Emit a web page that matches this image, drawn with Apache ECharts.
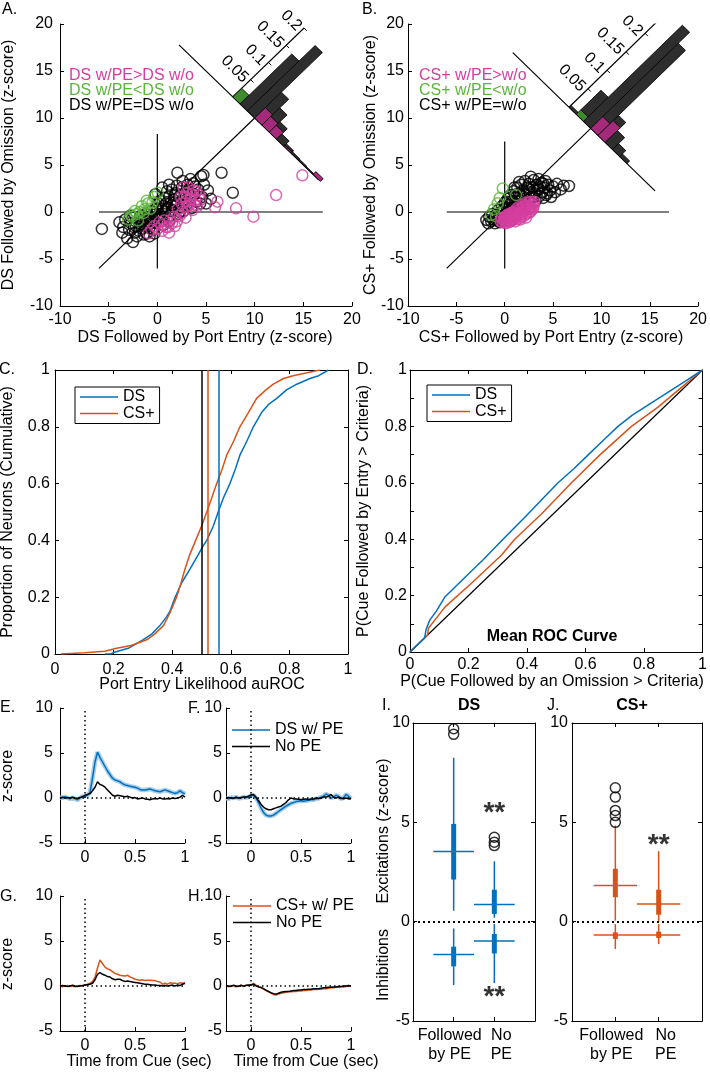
<!DOCTYPE html>
<html>
<head>
<meta charset="utf-8">
<script src="https://cdn.jsdelivr.net/npm/echarts@6/dist/echarts.min.js"></script>
<style>
html, body { margin: 0; padding: 0; background: #fff; }
#chart { width: 710px; height: 1075px; }
</style>
</head>
<body>
<div id="chart"></div>
<script>
// ---------- data ----------
// A / B scatter: [PE z-score, omission z-score]
const dsScatterNs = [[-5.7,-1.8],[-3.9,-1.1],[-3.6,-2.2],[-3.5,-1.6],[-3.3,-0.8],[-3.1,-2.8],[-2.9,-1.9],[-2.8,-0.4],[-2.7,-1.2],[-2.5,-3.2],[-2.5,-0.6],[-2.4,-1.6],[-2.3,-2.2],[-2.2,-1.5],[-2.1,-2.6],[-2.0,-0.9],[-1.9,-2.0],[-1.8,-1.3],[-1.7,-0.4],[-1.7,-1.0],[-1.6,-1.8],[-1.5,-0.9],[-1.4,-2.4],[-1.3,-1.5],[-1.2,-0.2],[-1.2,-0.7],[-1.1,-2.3],[-1.0,-1.0],[-0.9,-0.5],[-0.8,-1.7],[-0.8,-2.6],[-0.7,-1.2],[-0.6,0.1],[-0.6,-0.9],[-0.5,-0.7],[-0.4,-1.9],[-0.3,-0.3],[-0.3,-2.3],[-0.2,-1.1],[-0.2,1.9],[-0.1,0.4],[0.0,-0.6],[0.0,0.3],[0.1,0.9],[0.2,-0.2],[0.3,1.2],[0.3,-0.6],[0.4,0.3],[0.5,-0.9],[0.5,2.6],[0.6,0.6],[0.6,-1.4],[0.7,1.5],[0.8,0.0],[0.9,0.9],[0.9,0.3],[1.0,2.2],[1.1,0.4],[1.2,1.6],[1.2,-1.0],[1.2,2.9],[1.3,-0.4],[1.4,1.0],[1.5,2.4],[1.5,0.7],[1.6,0.2],[1.7,1.3],[1.8,0.6],[1.8,1.8],[1.9,2.0],[2.0,2.8],[2.06,4.18],[2.1,1.0],[2.2,-0.2],[2.3,1.7],[2.3,0.0],[2.4,0.5],[2.5,2.6],[2.6,1.2],[2.6,3.3],[2.7,0.1],[2.8,1.9],[2.9,1.0],[3.0,0.8],[3.1,2.9],[3.2,2.2],[3.3,1.5],[3.4,3.5],[3.5,0.4],[3.7,3.05],[3.8,1.9],[3.9,2.7],[4.0,1.1],[4.2,2.4],[4.4,0.9],[4.5,3.8],[4.6,1.6],[4.73,3.94],[4.8,2.9],[5.0,0.9],[5.2,2.3],[5.5,1.4],[6.6,4.18],[7.75,2.05]];
const dsScatterLess = [[-3.0,-0.8],[-2.7,-0.3],[-2.6,-0.5],[-2.3,0.1],[-2.1,-0.2],[-1.8,0.0],[-1.6,0.6],[-1.3,0.3],[-1.1,1.2],[-0.92,0.93],[-0.7,0.35],[-0.5,1.0],[-0.3,1.6],[0.04,2.05],[-2.0,-0.9],[-1.4,-0.1]];
const dsScatterMore = [[-0.9,-2.27],[-0.6,-1.9],[-0.3,-1.5],[0.0,-1.8],[0.2,-1.1],[0.45,-1.4],[0.5,-2.0],[0.7,-0.9],[0.9,-1.6],[1.1,-1.6],[1.2,-2.2],[1.3,-0.9],[1.5,-1.2],[1.7,-0.5],[1.8,-1.5],[2.0,-1.0],[2.1,0.3],[2.3,-0.4],[2.4,1.6],[2.5,0.9],[2.6,0.0],[2.7,2.6],[2.8,1.6],[2.9,-0.6],[3.0,2.0],[3.0,1.2],[3.1,0.6],[3.2,2.6],[3.3,0.75],[3.4,1.4],[3.5,1.9],[3.6,0.2],[3.7,2.3],[3.8,0.8],[3.9,1.28],[4.0,2.2],[4.1,0.6],[4.3,1.8],[4.4,1.3],[5.93,0.5],[6.17,1.1],[8.09,0.39],[9.87,-0.5],[12.2,1.8],[14.9,3.9]];
const csScatterNs = [[-1.9,-0.85],[-1.7,-1.2],[-1.6,-0.5],[-1.4,-1.0],[-1.3,-0.2],[-1.2,-0.8],[-1.0,-1.2],[-1.0,-0.5],[-0.9,-0.3],[-0.8,-0.9],[-0.7,0.2],[-0.6,-0.6],[-0.5,-1.1],[-0.4,0.0],[-0.3,0.6],[-0.3,-0.9],[-0.2,-0.4],[-0.1,0.3],[0.0,1.0],[0.1,-0.2],[0.2,0.5],[0.2,1.1],[0.3,1.4],[0.4,0.1],[0.5,0.8],[0.5,1.5],[0.6,1.8],[0.7,0.4],[0.8,1.2],[0.9,2.2],[1.0,0.7],[1.0,2.6],[1.1,1.6],[1.2,0.2],[1.2,1.9],[1.3,2.6],[1.4,1.1],[1.5,1.9],[1.5,3.2],[1.6,0.6],[1.7,2.9],[1.8,1.4],[1.9,2.3],[2.0,1.0],[2.0,2.0],[2.1,3.3],[2.2,1.8],[2.3,2.6],[2.4,1.3],[2.5,3.0],[2.5,2.5],[2.6,2.1],[2.7,3.76],[2.8,1.6],[2.9,2.6],[3.0,3.4],[3.0,1.6],[3.1,2.0],[3.2,1.2],[3.3,2.9],[3.4,2.3],[3.5,3.5],[3.5,2.5],[3.6,1.7],[3.7,2.7],[3.8,3.1],[3.9,2.1],[4.0,1.5],[4.0,3.0],[4.1,2.6],[4.2,3.3],[4.3,1.8],[4.4,2.0],[4.5,2.9],[4.7,2.3],[4.8,1.6],[5.0,2.7],[5.2,2.1],[5.4,3.0],[5.8,2.4],[6.1,2.8],[6.65,2.77]];
const csScatterLess = [[-0.2,2.5],[1.17,1.8],[-0.72,0.93],[-1.4,-0.3],[-0.9,-0.45],[-1.1,0.3],[-0.5,1.5]];
const csScatterMore = [[-0.4,-1.0],[-0.3,-0.7],[-0.2,-1.1],[-0.1,-0.8],[0.0,-0.5],[0.0,-1.0],[0.1,-0.7],[0.1,-1.2],[0.2,-1.0],[0.2,-0.4],[0.3,-0.8],[0.3,-0.3],[0.4,-0.5],[0.4,-1.1],[0.5,-0.9],[0.5,-0.2],[0.6,-0.6],[0.6,-1.0],[0.7,-0.9],[0.7,-0.1],[0.8,-0.3],[0.8,-0.7],[0.9,0.0],[0.9,-0.5],[1.0,-0.5],[1.0,-0.8],[1.1,-0.2],[1.1,-1.0],[1.2,-0.6],[1.2,0.3],[1.3,0.1],[1.3,-0.3],[1.4,-0.4],[1.4,0.5],[1.5,-0.7],[1.5,0.3],[1.6,-0.1],[1.6,-0.8],[1.7,-0.5],[1.8,0.4],[1.8,-0.2],[1.9,0.0],[1.9,0.8],[2.0,-0.4],[2.0,0.6],[2.0,0.2],[2.1,0.2],[2.2,-0.2],[2.2,-0.6],[2.2,1.0],[2.3,0.8],[2.4,0.3],[2.4,0.6],[2.5,-0.1],[2.5,1.0],[2.6,0.5],[2.6,0.0],[2.7,0.1],[2.7,1.1],[2.8,0.8],[2.8,0.4],[2.9,0.3],[3.0,0.6],[3.0,0.9],[3.05,1.1]];

// diagonal histograms: bin index (along difference axis), significant part, non-significant part
const dsHistBins = [-3, -2, -1, 0, 1, 2, 3, 4, 5, 6, 7, 8];
const dsHistSig  = [0.025, 0, 0, 0.03, 0.025, 0.02, 0, 0.003, 0, 0, 0, 0.008];
const dsHistNs   = [0, 0.145, 0.19, 0.045, 0.025, 0.01, 0.015, 0.004, 0.004, 0.003, 0.002, 0];
const csHistBins = [-3, -2, -1, 0, 1, 2, 3, 4];
const csHistSig  = [0, 0.012, 0, 0.032, 0.04, 0, 0, 0];
const csHistNs   = [0.005, 0.053, 0.26, 0.198, 0.014, 0.032, 0.016, 0.007];
const histTicks  = [0.05, 0.1, 0.15, 0.2];

// C: cumulative auROC distributions
const cumDs = [[0.17,0],[0.19,0],[0.2,0.005],[0.25,0.02],[0.3,0.05],[0.33,0.07],[0.358,0.1],[0.38,0.13],[0.392,0.15],[0.41,0.2],[0.432,0.25],[0.461,0.3],[0.489,0.35],[0.505,0.38],[0.518,0.4],[0.54,0.45],[0.557,0.5],[0.575,0.55],[0.597,0.6],[0.615,0.65],[0.631,0.7],[0.655,0.75],[0.677,0.8],[0.705,0.85],[0.73,0.88],[0.757,0.9],[0.79,0.93],[0.825,0.95],[0.87,0.97],[0.9,0.98],[0.933,1.0]];
const cumCs = [[0.02,0],[0.1,0.004],[0.17,0.01],[0.21,0.02],[0.26,0.03],[0.313,0.05],[0.34,0.07],[0.37,0.1],[0.39,0.14],[0.415,0.2],[0.43,0.25],[0.444,0.3],[0.46,0.35],[0.48,0.4],[0.5,0.45],[0.518,0.5],[0.535,0.55],[0.552,0.6],[0.57,0.65],[0.586,0.7],[0.61,0.75],[0.631,0.8],[0.66,0.85],[0.688,0.9],[0.72,0.93],[0.745,0.95],[0.78,0.97],[0.813,0.98],[0.86,0.99],[0.904,1.0]];
const cumChance = 0.5, cumMedianDs = 0.56, cumMedianCs = 0.52;

// D: mean ROC curves
const rocDs = [[0,0],[0.05,0.05],[0.055,0.08],[0.068,0.114],[0.09,0.145],[0.12,0.196],[0.19,0.267],[0.25,0.327],[0.318,0.4],[0.39,0.475],[0.45,0.54],[0.506,0.6],[0.56,0.65],[0.61,0.7],[0.66,0.75],[0.711,0.8],[0.76,0.84],[0.82,0.88],[0.88,0.92],[0.94,0.96],[1,1]];
const rocCs = [[0,0],[0.06,0.06],[0.063,0.084],[0.09,0.12],[0.12,0.16],[0.21,0.244],[0.313,0.344],[0.358,0.4],[0.45,0.49],[0.552,0.6],[0.65,0.7],[0.757,0.8],[0.85,0.87],[0.93,0.94],[1,1]];
const rocChance = [[0,0],[1,1]];

// E-H: peri-cue traces
const tSec = [-0.25,-0.225,-0.2,-0.175,-0.15,-0.125,-0.1,-0.075,-0.05,-0.025,0,0.025,0.05,0.075,0.1,0.125,0.15,0.175,0.2,0.225,0.25,0.275,0.3,0.325,0.35,0.375,0.4,0.425,0.45,0.475,0.5,0.525,0.55,0.575,0.6,0.625,0.65,0.675,0.7,0.725,0.75,0.775,0.8,0.825,0.85,0.875,0.9,0.925,0.95,0.975,1.0];
const excDsPe = [0.1,0.0,0.15,0.0,-0.1,0.05,-0.1,-0.2,0.0,0.2, 0.2,0.3,0.6,2.2,4.0,5.1,4.5,4.0,3.5,3.0,2.6,2.2,2.0,1.9,1.8,1.6,1.45,1.4,1.3,1.25,1.2,1.1,0.95,0.9,0.9,0.95,1.0,0.9,0.8,0.75,0.7,0.8,0.9,0.8,0.7,0.6,0.5,0.6,0.8,0.6,0.45];
const excDsNo = [0.0,0.1,0.0,0.05,0.0,0.1,0.0,-0.05,0.05,0.1, 0.3,0.4,0.5,0.8,1.2,1.8,1.5,1.4,1.2,0.9,0.6,0.3,0.2,0.3,0.25,0.2,0.15,0.2,0.1,0.0,0.05,-0.1,-0.05,0.0,-0.1,-0.15,-0.2,-0.1,-0.05,-0.1,0.0,-0.1,-0.1,-0.05,-0.1,0.0,-0.05,0.0,0.1,0.3,0.1];
const inhDsPe = [0.0,-0.1,0.05,0.0,0.1,-0.05,0.0,0.1,0.05,0.1, 0.25,0.3,0.0,-0.5,-1.1,-1.6,-1.9,-2.0,-2.0,-1.9,-1.7,-1.5,-1.3,-1.1,-0.9,-0.75,-0.6,-0.5,-0.4,-0.35,-0.3,-0.35,-0.3,-0.25,-0.2,-0.2,-0.1,-0.05,0.1,0.2,0.45,0.3,0.0,0.1,0.3,0.2,-0.1,0.0,0.4,0.2,-0.1];
const inhDsNo = [0.0,0.05,0.0,-0.05,0.1,0.0,0.05,0.1,0.1,0.2, 0.35,0.4,0.1,-0.3,-0.7,-1.0,-1.2,-1.3,-1.3,-1.2,-1.1,-1.0,-0.9,-0.7,-0.5,-0.2,0.0,-0.1,-0.1,-0.15,-0.2,-0.15,-0.1,-0.2,-0.1,-0.1,0.0,-0.05,0.0,0.1,0.1,0.2,0.4,0.1,0.0,0.1,0.0,-0.1,0.0,-0.1,-0.05];
const excCsPe = [0.1,-0.1,0.0,0.05,-0.05,0.0,-0.1,0.0,0.05,0.0, 0.1,0.2,0.3,0.5,1.0,2.0,2.9,2.5,2.1,1.9,1.8,1.6,1.4,1.3,1.2,1.15,1.1,1.2,1.0,0.9,0.75,0.7,0.65,0.7,0.6,0.65,0.65,0.6,0.6,0.5,0.45,0.2,0.3,0.2,0.35,0.3,0.3,0.25,0.35,0.3,0.35];
const excCsNo = [0.0,0.05,0.0,-0.05,0.0,0.1,0.0,-0.05,0.0,0.05, 0.1,0.15,0.2,0.3,0.7,1.3,1.5,1.3,1.2,1.05,1.0,0.8,0.7,0.75,0.75,0.6,0.5,0.55,0.5,0.45,0.4,0.35,0.3,0.25,0.2,0.2,0.15,0.1,0.1,0.05,0.05,0.0,0.05,0.0,0.05,0.1,0.0,0.1,0.05,0.2,0.3];
const inhCsPe = [0.0,-0.1,0.05,0.0,-0.1,0.0,0.05,-0.05,0.1,0.05, 0.15,0.3,0.1,-0.1,-0.2,-0.35,-0.5,-0.65,-0.8,-0.95,-1.0,-0.9,-0.8,-0.75,-0.7,-0.65,-0.65,-0.6,-0.6,-0.55,-0.55,-0.5,-0.5,-0.45,-0.45,-0.4,-0.4,-0.35,-0.35,-0.3,-0.3,-0.25,-0.2,-0.2,-0.15,-0.15,-0.1,-0.1,-0.05,0.0,-0.05];
const inhCsNo = [0.05,0.0,-0.05,0.1,0.0,-0.05,0.1,0.0,0.05,0.1, 0.1,0.2,0.0,-0.1,-0.15,-0.3,-0.45,-0.6,-0.75,-0.85,-0.9,-0.8,-0.7,-0.65,-0.6,-0.6,-0.55,-0.5,-0.5,-0.45,-0.45,-0.4,-0.4,-0.35,-0.35,-0.3,-0.3,-0.3,-0.25,-0.2,-0.2,-0.15,-0.15,-0.1,-0.1,-0.05,-0.05,0.0,0.0,0.05,0.0];

// I-J: [category, whisker low, q1, median, q3, whisker high]
const boxLabels = [['Followed', 'by PE'], ['No', 'PE']];
const boxDsExc = [[1, 0.55, 2.12, 3.53, 4.92, 8.25], [2, 0.2, 0.39, 0.86, 1.61, 3.04]];
const boxDsInh = [[1, -3.19, -2.25, -1.65, -1.26, -0.34], [2, -3.09, -1.6, -0.97, -0.62, -0.12]];
const outDs = [[1, 9.43], [1, 9.71], [2, 3.83], [2, 4.0], [2, 4.25]];
const starsDs = [[2, 5.8], [2, -3.45]];
const boxCsExc = [[1, 0.05, 1.23, 1.82, 2.66, 4.84], [2, 0.0, 0.35, 0.89, 1.61, 3.55]];
const boxCsInh = [[1, -1.38, -0.87, -0.67, -0.54, -0.12], [2, -1.13, -0.82, -0.67, -0.5, -0.12]];
const outCs = [[1, 5.0], [1, 5.34], [1, 5.6], [1, 6.27], [1, 6.74]];
const starsCs = [[2, 4.2]];

// ---------- style ----------
const FONT = 'Liberation Sans';
const BLUE = '#0072BD', ORANGE = '#D95319', MAGENTA = '#D43F9F', GREEN = '#5CB53B';
const HIST_POS = '#A62A7C', HIST_NEG = '#3D8B2B', HIST_NS = '#2E2E2E';

// geometry of the rotated histograms (data units of the scatter axes)
const geomA = { cx: 10, cy: 10, w: 1.06, scale: 51.8, axisBin: -3, axisMax: 0.2, baseFrom: -11, baseTo: 9.3 };
const geomB = { cx: 8.9, cy: 8.9, w: 1.06, scale: 55.6, axisBin: -3, axisMax: 0.25, baseFrom: -11.4, baseTo: 9.4 };

function histPoint(g, d, p) {
  const s = p * g.scale;
  return [g.cx + (d + s) / Math.SQRT2, g.cy + (s - d) / Math.SQRT2];
}

function histBars(g) {
  return function (params, api) {
    const d0 = api.value(0) * g.w, sig = api.value(1), ns = api.value(2);
    const poly = (h0, h1, fill) => ({
      type: 'polygon',
      shape: { points: [[d0, h0], [d0 + g.w, h0], [d0 + g.w, h1], [d0, h1]].map(p => api.coord(histPoint(g, p[0], p[1]))) },
      style: { fill: fill, stroke: '#000', lineWidth: 0.8 }
    });
    const kids = [];
    if (sig > 0) kids.push(poly(0, sig, d0 < 0 ? HIST_NEG : HIST_POS));
    if (ns > 0) kids.push(poly(sig, sig + ns, HIST_NS));
    return { type: 'group', children: kids };
  };
}

function histTickMarks(g) {
  return function (params, api) {
    const p = api.value(0);
    const a = api.coord(histPoint(g, g.axisBin * g.w, p));
    const t = 4 / Math.SQRT2;
    return {
      type: 'group',
      children: [
        { type: 'line', shape: { x1: a[0], y1: a[1], x2: a[0] + t, y2: a[1] + t }, style: { stroke: '#000', lineWidth: 1 } },
        { type: 'text', x: a[0] - 5, y: a[1] + 0.5, rotation: -Math.PI / 4,
          style: { text: String(p), fill: '#000', fontSize: 16, fontFamily: FONT, align: 'right', verticalAlign: 'middle' } }
      ]
    };
  };
}

function axis(gridIndex, min, max, o) {
  o = o || {};
  const ax = {
    type: 'value', gridIndex: gridIndex, min: min, max: max,
    axisLine: { show: o.line !== false, onZero: false, lineStyle: { color: '#000', width: 1 } },
    axisTick: { show: o.tick !== false, inside: true, length: 4, lineStyle: { color: '#000', width: 1 } },
    axisLabel: { show: o.labels !== false, color: '#000', fontSize: 16, fontFamily: FONT, hideOverlap: false,
      margin: o.margin != null ? o.margin : 8 },
    splitLine: { show: false }
  };
  if (o.position) ax.position = o.position;
  if (o.interval != null) ax.interval = o.interval;
  if (o.ticks) { ax.axisTick.customValues = o.ticks; ax.axisLabel.customValues = o.ticks; }
  if (o.formatter) ax.axisLabel.formatter = o.formatter;
  if (o.rich) ax.axisLabel.rich = o.rich;
  if (o.minor) ax.minorTick = { show: true, splitNumber: o.minor, length: 4, lineStyle: { color: '#000' } };
  return ax;
}

// two-line category labels, nudged apart the way the original lays them out;
// each category gets its own bottom axis so neither label is dropped for overlap
const boxRich = {
  l: { fontSize: 16, fontFamily: FONT, color: '#000', lineHeight: 19, padding: [0, 8, 0, 0] },
  r: { fontSize: 16, fontFamily: FONT, color: '#000', lineHeight: 19, padding: [0, 0, 0, 14] }
};
function boxLabel(v) {
  const lines = boxLabels[v - 1] || [];
  const tag = v === 1 ? 'l' : 'r';
  return lines.map(s => '{' + tag + '|' + s + '}').join('\n');
}

function pairs(ys) { return tSec.map((t, i) => [t, ys[i]]); }
function histRows(bins, sig, ns) { return bins.map((b, i) => [b, sig[i], ns[i]]); }

function refLine(xi, yi, pts, width) {
  return { type: 'line', xAxisIndex: xi, yAxisIndex: yi, data: pts, symbol: 'none', silent: true,
    lineStyle: { color: '#000', width: width || 1.2 }, z: 2 };
}

function circles(xi, yi, data, color, size) {
  return { type: 'scatter', xAxisIndex: xi, yAxisIndex: yi, data: data, symbol: 'circle', symbolSize: size || 11,
    itemStyle: { color: 'rgba(0,0,0,0)', borderColor: color, borderWidth: 1.5 }, z: 3 };
}

function trace(name, xi, data, color, width, extra) {
  return Object.assign({ name: name, type: 'line', xAxisIndex: xi, yAxisIndex: xi, data: data, symbol: 'none',
    lineStyle: { color: color, width: width || 1.5 }, itemStyle: { color: color }, z: 3 }, extra || {});
}

const dotted = { type: [1.5, 3], color: '#000', width: 1.5 };
function cueLines() {
  return { symbol: 'none', silent: true, label: { show: false }, lineStyle: dotted,
    data: [{ xAxis: 0 }, { yAxis: 0 }] };
}

function compactBox(params, api) {
  const x = api.value(0);
  const lo = api.coord([x, api.value(1)]);
  const q1 = api.coord([x, api.value(2)]);
  const md = api.coord([x, api.value(3)]);
  const q3 = api.coord([x, api.value(4)]);
  const hi = api.coord([x, api.value(5)]);
  const half = api.size([1, 0])[0] * 0.5;
  const c = api.visual('color');
  return {
    type: 'group',
    children: [
      { type: 'line', shape: { x1: lo[0], y1: lo[1], x2: hi[0], y2: hi[1] }, style: { stroke: c, lineWidth: 1.5 } },
      { type: 'line', shape: { x1: q1[0], y1: q1[1], x2: q3[0], y2: q3[1] }, style: { stroke: c, lineWidth: 5 } },
      { type: 'line', shape: { x1: md[0] - half, y1: md[1], x2: md[0] + half, y2: md[1] }, style: { stroke: c, lineWidth: 1.5 } }
    ]
  };
}

function boxSeries(xi, data, color) {
  return { type: 'custom', xAxisIndex: xi, yAxisIndex: xi, data: data, renderItem: compactBox,
    itemStyle: { color: color }, encode: { x: 0, y: [1, 2, 3, 4, 5] }, z: 3 };
}

function stars(xi, data) {
  return { type: 'scatter', xAxisIndex: xi, yAxisIndex: xi, data: data, symbol: 'circle', symbolSize: 1,
    itemStyle: { color: 'rgba(0,0,0,0)' }, silent: true,
    label: { show: true, position: 'inside', formatter: '**', fontSize: 28, fontWeight: 'bold', color: '#000', fontFamily: FONT, offset: [0, 7] } };
}

function txt(text, x, y, o) {
  o = o || {};
  const align = o.align || 'center';
  return { type: 'text', x: x, y: y, rotation: o.rot || 0, silent: true, z: 10,
    style: { text: text, fill: o.color || '#000', fontSize: o.size || 16, fontFamily: FONT, fontWeight: o.weight || 'normal',
      align: align, verticalAlign: 'middle', textAlign: align, textVerticalAlign: 'middle' } };
}

const ROT = Math.PI / 2;
const graphics = [
  txt('A.', 2, 10, { align: 'left' }), txt('B.', 362, 10, { align: 'left' }),
  txt('C.', -1, 370, { align: 'left' }), txt('D.', 357, 370, { align: 'left' }),
  txt('E.', 0, 708, { align: 'left' }), txt('F.', 188, 709, { align: 'left' }),
  txt('G.', 0, 897, { align: 'left' }), txt('H.', 188, 897, { align: 'left' }),
  txt('I.', 382, 706, { align: 'left' }), txt('J.', 547, 706, { align: 'left' }),
  txt('DS w/PE>DS w/o', 69, 76, { align: 'left', color: MAGENTA }),
  txt('DS w/PE<DS w/o', 69, 91, { align: 'left', color: GREEN }),
  txt('DS w/PE=DS w/o', 69, 106, { align: 'left' }),
  txt('CS+ w/PE>w/o', 419, 76, { align: 'left', color: MAGENTA }),
  txt('CS+ w/PE<w/o', 419, 91, { align: 'left', color: GREEN }),
  txt('CS+ w/PE=w/o', 419, 106, { align: 'left' }),
  txt('DS Followed by Omission (z-score)', 9, 165, { rot: ROT }),
  txt('CS+ Followed by Omission (z-score)', 371, 165, { rot: ROT }),
  txt('DS Followed by Port Entry (z-score)', 205, 338),
  txt('CS+ Followed by Port Entry (z-score)', 551, 338),
  txt('Proportion of Neurons (Cumulative)', 8, 512, { rot: ROT }),
  txt('Port Entry Likelihood auROC', 202, 685),
  txt('P(Cue Followed by Entry > Criteria)', 364, 511, { rot: ROT }),
  txt('P(Cue Followed by an Omission > Criteria)', 552, 682),
  txt('Mean ROC Curve', 552, 637, { weight: 'bold' }),
  txt('z-score', 8, 776, { rot: ROT }),
  txt('z-score', 8, 964, { rot: ROT }),
  txt('Time from Cue (sec)', 139, 1062),
  txt('Time from Cue (sec)', 306, 1062),
  txt('DS', 469, 706, { weight: 'bold' }),
  txt('CS+', 632, 706, { weight: 'bold' }),
  txt('Excitations (z-score)', 384, 831, { rot: ROT }),
  txt('Inhibitions', 384, 965, { rot: ROT })
];

function legendBox(left, top, names, border) {
  return {
    orient: 'vertical', left: left, top: top, data: names, selectedMode: false,
    icon: 'rect', itemWidth: 38, itemHeight: 1.5, itemGap: 0.5,
    padding: border ? [2, 5, 2, 5] : 0,
    borderColor: border ? '#000' : 'transparent', borderWidth: border ? 1 : 0, backgroundColor: '#fff',
    textStyle: { color: '#000', fontSize: 16, fontFamily: FONT, lineHeight: 16 }
  };
}

const option = {
  animation: false,
  backgroundColor: '#fff',
  textStyle: { fontFamily: FONT },
  graphic: { elements: graphics },
  legend: [
    legendBox(75, 387, ['DS', 'CS+'], true),
    legendBox(427, 385, ['DS', 'CS+'], true),
    legendBox(232, 722, ['DS w/ PE', 'No PE'], false),
    legendBox(233, 898, ['CS+ w/ PE', 'No PE'], false)
  ],
  grid: [
    { left: 60, top: 24, width: 292, height: 282 },
    { left: 408, top: 24, width: 292, height: 282 },
    { left: 55, top: 370, width: 293, height: 284 },
    { left: 410, top: 370, width: 293, height: 282 },
    { left: 60, top: 708, width: 125, height: 135 },
    { left: 226, top: 708, width: 125, height: 135 },
    { left: 60, top: 896, width: 125, height: 135 },
    { left: 226, top: 896, width: 125, height: 135 },
    { left: 413, top: 723, width: 122, height: 298 },
    { left: 572, top: 723, width: 130, height: 298 }
  ],
  xAxis: [
    axis(0, -10, 20, { interval: 5, margin: 6 }),
    axis(1, -10, 20, { interval: 5, margin: 6 }),
    axis(2, 0, 1, { interval: 0.2, margin: 8 }),
    axis(2, 0, 1, { interval: 0.2, labels: false, position: 'top' }),
    axis(3, 0, 1, { interval: 0.2, margin: 5 }),
    axis(3, 0, 1, { interval: 0.2, labels: false, position: 'top' }),
    axis(4, -0.25, 1, { ticks: [0, 0.5, 1], margin: 7 }),
    axis(5, -0.25, 1, { ticks: [0, 0.5, 1], margin: 7 }),
    axis(6, -0.25, 1, { ticks: [0, 0.5, 1], margin: 7 }),
    axis(7, -0.25, 1, { ticks: [0, 0.5, 1], margin: 7 }),
    axis(8, 0, 3, { ticks: [1], margin: 5, formatter: boxLabel, rich: boxRich, position: 'bottom' }),
    axis(8, 0, 3, { ticks: [1, 2], labels: false, position: 'top' }),
    axis(9, 0, 3, { ticks: [1], margin: 5, formatter: boxLabel, rich: boxRich, position: 'bottom' }),
    axis(9, 0, 3, { ticks: [1, 2], labels: false, position: 'top' }),
    axis(8, 0, 3, { ticks: [2], margin: 5, formatter: boxLabel, rich: boxRich, position: 'bottom' }),
    axis(9, 0, 3, { ticks: [2], margin: 5, formatter: boxLabel, rich: boxRich, position: 'bottom' })
  ],
  yAxis: [
    axis(0, -10, 20, { interval: 5, margin: 7 }),
    axis(1, -10, 20, { interval: 5, margin: 4 }),
    axis(2, 0, 1, { interval: 0.2, margin: 5 }),
    axis(2, 0, 1, { interval: 0.2, labels: false, position: 'right' }),
    axis(3, 0, 1, { interval: 0.2, margin: 3, minor: 2 }),
    axis(3, 0, 1, { interval: 0.2, labels: false, position: 'right', minor: 2 }),
    axis(4, -5, 10, { interval: 5, margin: 7 }),
    axis(5, -5, 10, { interval: 5, margin: 4 }),
    axis(6, -5, 10, { interval: 5, margin: 7 }),
    axis(7, -5, 10, { interval: 5, margin: 4 }),
    axis(8, -5, 10, { interval: 5, margin: 3 }),
    axis(8, -5, 10, { interval: 5, labels: false, position: 'right' }),
    axis(9, -5, 10, { interval: 5, margin: 4 }),
    axis(9, -5, 10, { interval: 5, labels: false, position: 'right' })
  ],
  series: [
    // ---- A ----
    refLine(0, 0, [[-6, 0], [17, 0]]),
    refLine(0, 0, [[0, -6], [0, 8.3]]),
    refLine(0, 0, [[-6, -6], [geomA.cx, geomA.cy]]),
    refLine(0, 0, [histPoint(geomA, geomA.baseFrom, 0), histPoint(geomA, geomA.baseTo, 0)]),
    refLine(0, 0, [histPoint(geomA, geomA.axisBin * geomA.w, 0), histPoint(geomA, geomA.axisBin * geomA.w, geomA.axisMax)]),
    circles(0, 0, dsScatterNs, '#000'),
    circles(0, 0, dsScatterLess, GREEN),
    circles(0, 0, dsScatterMore, MAGENTA),
    { type: 'custom', xAxisIndex: 0, yAxisIndex: 0, data: histRows(dsHistBins, dsHistSig, dsHistNs), renderItem: histBars(geomA), z: 4 },
    { type: 'custom', xAxisIndex: 0, yAxisIndex: 0, data: histTicks.map(v => [v]), renderItem: histTickMarks(geomA), z: 4 },
    // ---- B ----
    refLine(1, 1, [[-6, 0], [17, 0]]),
    refLine(1, 1, [[0, -6], [0, 7.5]]),
    refLine(1, 1, [[-6, -6], [geomB.cx, geomB.cy]]),
    refLine(1, 1, [histPoint(geomB, geomB.baseFrom, 0), histPoint(geomB, geomB.baseTo, 0)]),
    refLine(1, 1, [histPoint(geomB, geomB.axisBin * geomB.w, 0), histPoint(geomB, geomB.axisBin * geomB.w, geomB.axisMax)]),
    circles(1, 1, csScatterNs, '#000'),
    circles(1, 1, csScatterLess, GREEN),
    circles(1, 1, csScatterMore, MAGENTA),
    { type: 'custom', xAxisIndex: 1, yAxisIndex: 1, data: histRows(csHistBins, csHistSig, csHistNs), renderItem: histBars(geomB), z: 4 },
    { type: 'custom', xAxisIndex: 1, yAxisIndex: 1, data: histTicks.map(v => [v]), renderItem: histTickMarks(geomB), z: 4 },
    // ---- C ----
    Object.assign(trace('DS', 2, cumDs, BLUE, 1.5), {
      yAxisIndex: 2,
      markLine: { symbol: 'none', silent: true, label: { show: false },
        data: [{ xAxis: cumChance, lineStyle: { color: '#000', width: 1.5, type: 'solid' } },
               { xAxis: cumMedianDs, lineStyle: { color: BLUE, width: 1.5, type: 'solid' } }] }
    }),
    Object.assign(trace('CS+', 2, cumCs, ORANGE, 1.5), {
      yAxisIndex: 2,
      markLine: { symbol: 'none', silent: true, label: { show: false },
        data: [{ xAxis: cumMedianCs, lineStyle: { color: ORANGE, width: 1.5, type: 'solid' } }] }
    }),
    // ---- D ----
    Object.assign(trace('chance', 4, rocChance, '#000', 1.2), { yAxisIndex: 4 }),
    Object.assign(trace('CS+', 4, rocCs, ORANGE, 1.5), { yAxisIndex: 4 }),
    Object.assign(trace('DS', 4, rocDs, BLUE, 1.5), { yAxisIndex: 4 }),
    // ---- E ----
    Object.assign(trace('DS w/ PE band', 6, pairs(excDsPe), '#A9CDEB', 4.5), { markLine: cueLines(), z: 2 }),
    trace('DS w/ PE', 6, pairs(excDsPe), BLUE, 1.5),
    trace('No PE', 6, pairs(excDsNo), '#000', 1.5),
    // ---- F ----
    Object.assign(trace('DS w/ PE band', 7, pairs(inhDsPe), '#A9CDEB', 4.5), { markLine: cueLines(), z: 2 }),
    trace('DS w/ PE', 7, pairs(inhDsPe), BLUE, 1.5),
    trace('No PE', 7, pairs(inhDsNo), '#000', 1.5),
    // ---- G ----
    Object.assign(trace('CS+ w/ PE', 8, pairs(excCsPe), ORANGE, 1.5), { markLine: cueLines() }),
    trace('No PE', 8, pairs(excCsNo), '#000', 1.5),
    // ---- H ----
    Object.assign(trace('CS+ w/ PE', 9, pairs(inhCsPe), ORANGE, 1.5), { markLine: cueLines() }),
    trace('No PE', 9, pairs(inhCsNo), '#000', 1.5),
    // ---- I ----
    Object.assign(boxSeries(10, boxDsExc, BLUE), {
      markLine: { symbol: 'none', silent: true, label: { show: false }, lineStyle: { type: [2, 3], color: '#000', width: 2 }, data: [{ yAxis: 0 }] }
    }),
    boxSeries(10, boxDsInh, BLUE),
    circles(10, 10, outDs, '#000', 10),
    stars(10, starsDs),
    // ---- J ----
    Object.assign(boxSeries(12, boxCsExc, ORANGE), {
      markLine: { symbol: 'none', silent: true, label: { show: false }, lineStyle: { type: [2, 3], color: '#000', width: 2 }, data: [{ yAxis: 0 }] }
    }),
    boxSeries(12, boxCsInh, ORANGE),
    circles(12, 12, outCs, '#000', 10),
    stars(12, starsCs)
  ]
};

const chart = echarts.init(document.getElementById('chart'), null, { renderer: 'canvas' });
chart.setOption(option);
</script>
</body>
</html>
